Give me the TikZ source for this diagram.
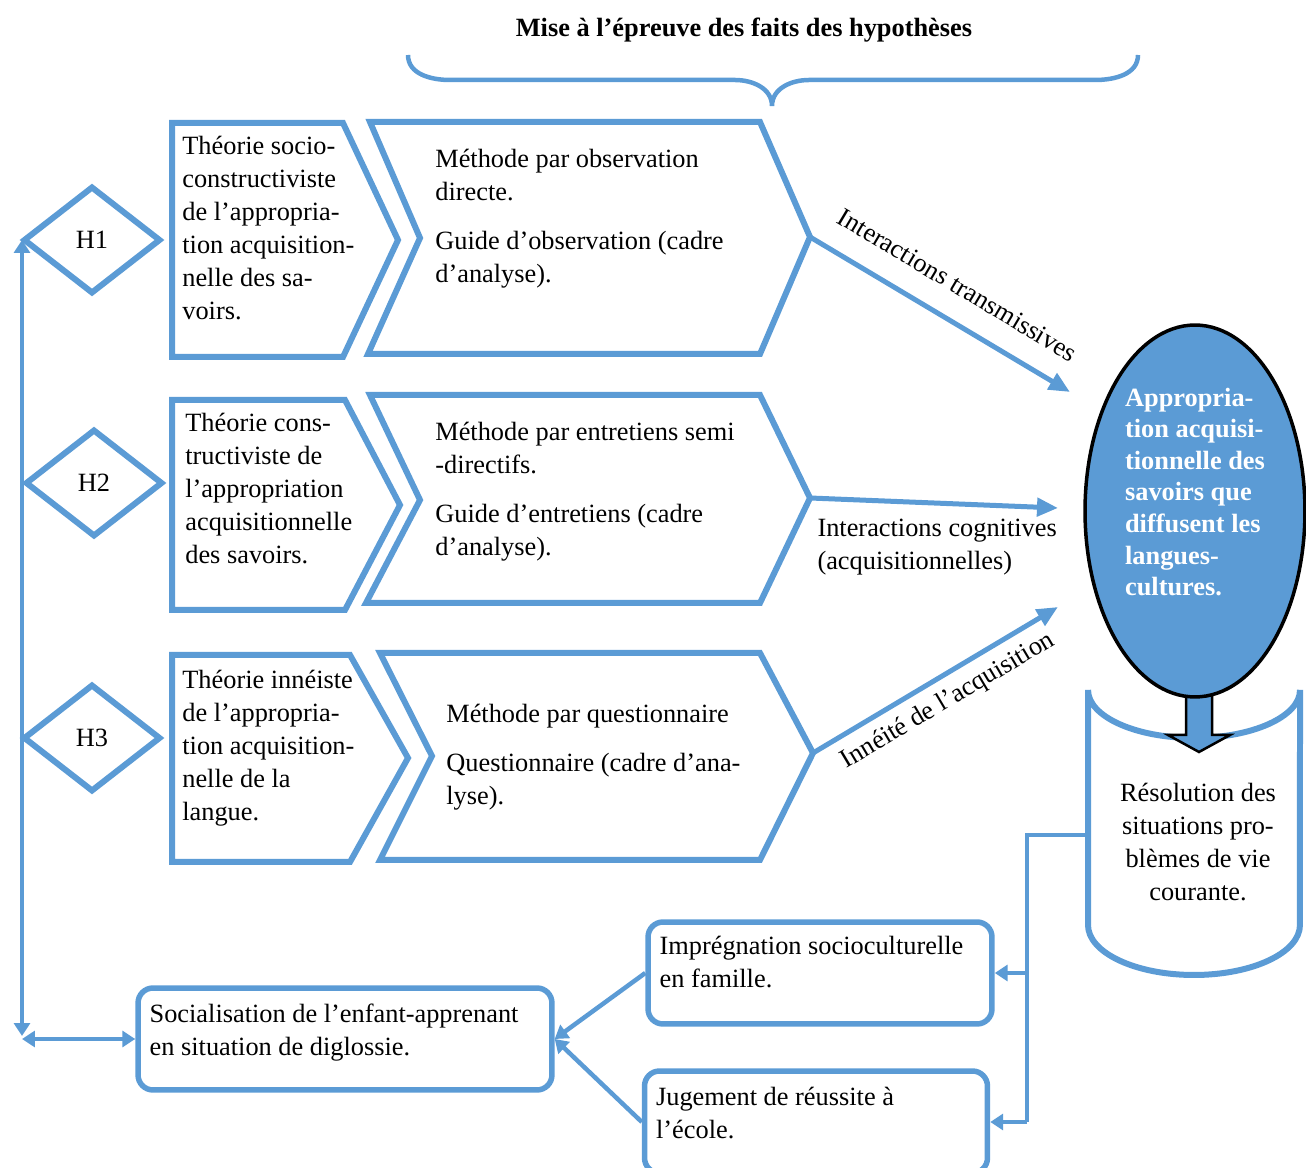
\documentclass[tikz,border=0pt]{standalone}
\usepackage{fontspec}
\setmainfont{Liberation Serif}
\usetikzlibrary{shapes.geometric,arrows.meta,positioning}
\definecolor{wordblue}{RGB}{91,155,213}

\begin{document}
\begin{tikzpicture}[x=0.02cm, y=-0.02cm,
  every node/.append style={font=\fontsize{15}{18.8}\selectfont},
  hyp/.style={diamond, draw=wordblue, line width=0.12cm, minimum width=2.75cm,
    minimum height=2.15cm, inner sep=0pt},
  chev/.style={draw=wordblue, line width=0.12cm, line join=miter, miter limit=10},
  txt/.style={anchor=north west, align=left, inner sep=0pt},
  infobox/.style={draw=wordblue, line width=0.11cm, rounded corners=0.3cm, minimum height=2.04cm},
  boxtext/.style={anchor=west, align=flush left, inner sep=0pt, xshift=0.28cm},
  wire/.style={draw=wordblue, line width=0.09cm},
  flow/.style={draw=wordblue, line width=0.1cm, -{Triangle[length=0.42cm, width=0.36cm]}},
  smalltip/.tip={Triangle[length=0.26cm, width=0.32cm]},
]
\useasboundingbox (0,0) rectangle (1306,1168);

%Declare nodes.
\node[font=\fontsize{15}{18.8}\selectfont\bfseries] (title) at (744,30) {Mise à l’épreuve des faits des hypothèses};

\node[hyp] (h1) at (92,240) {H1};
\node[hyp] (h2) at (94,483) {H2};
\node[hyp] (h3) at (92,738) {H3};

%Setup shapes.
\draw[wordblue, line width=0.09cm] (408,55) to[out=-90, in=180] (450,80) -- (735,80)
  to[out=0, in=90] (772,106) to[out=90, in=180] (809,80) -- (1095,80) to[out=0, in=-90] (1138,55);

\draw[chev] (172,123) -- (343,123) -- (398,240) -- (343,357) -- (172,357) -- cycle;
\draw[chev] (370,122) -- (760,122) -- (810,237) -- (760,354) -- (368,354) -- (420,238) -- cycle;
\draw[chev] (172,400) -- (345,400) -- (400,505) -- (345,610) -- (172,610) -- cycle;
\draw[chev] (370,395) -- (760,395) -- (810,498) -- (760,603) -- (366,603) -- (420,500) -- cycle;
\draw[chev] (172,655) -- (350,655) -- (408,758) -- (350,862) -- (172,862) -- cycle;
\draw[chev] (380,653) -- (760,653) -- (813,753) -- (760,860) -- (380,860) -- (432,756) -- cycle;

\coordinate (m1tip) at (810,237);
\coordinate (m2tip) at (810,498);
\coordinate (m3tip) at (813,753);

\node[txt] (t1) at (182,136) {Théorie socio-\\constructiviste\\de l’appropria-\\tion acquisition-\\nelle des sa-\\voirs.};
\node[txt] (t2) at (185,413) {Théorie cons-\\tructiviste de\\l’appropriation\\acquisitionnelle\\des savoirs.};
\node[txt] (t3) at (182,670) {Théorie innéiste\\de l’appropria-\\tion acquisition-\\nelle de la\\langue.};

\node[txt] (m1) at (435,149) {Méthode par observation\\directe.\\[9pt]Guide d’observation (cadre\\d’analyse).};
\node[txt] (m2) at (435,422) {Méthode par entretiens semi\\-directifs.\\[9pt]Guide d’entretiens (cadre\\d’analyse).};
\node[txt] (m3) at (446,704) {Méthode par questionnaire\\[9pt]Questionnaire (cadre d’ana-\\lyse).};

%Cylinder with the block arrow.
\draw[chev, fill=white] (1088,690) -- (1088,925) arc[start angle=180, end angle=360, x radius=2.12cm, y radius=1cm]
  -- (1300,690) arc[start angle=0, end angle=-180, x radius=2.12cm, y radius=0.96cm];
\coordinate (resw) at (1088,835);
\node[align=center] (res) at (1198,842) {Résolution des\\situations pro-\\blèmes de vie\\courante.};
\draw[black, line width=0.05cm, fill=wordblue] (1186,680) -- (1186,735) -- (1168,735) -- (1199,752)
  -- (1230,735) -- (1212,735) -- (1212,680) -- cycle;

\node[ellipse, fill=wordblue, draw=black, line width=0.07cm, minimum width=4.4cm, minimum height=7.44cm,
  label={[text=white, font=\fontsize{15}{18}\selectfont\bfseries, align=left, yshift=0.38cm]center:{Appropria-\\tion acquisi-\\tionnelle des\\savoirs que\\diffusent les\\langues-\\cultures.}}] (app) at (1195,511) {};

\node[infobox, minimum width=8.28cm,
  label={[boxtext, yshift=0.12cm]west:{Socialisation de l’enfant-apprenant\\en situation de diglossie.}}] (soc) at (345,1039) {};
\node[infobox, minimum width=6.88cm,
  label={[boxtext, yshift=0.22cm]west:{Imprégnation socioculturelle\\en famille.}}] (impr) at (820,973) {};
\node[infobox, minimum width=6.86cm,
  label={[boxtext, yshift=0.18cm]west:{Jugement de réussite à\\l’école.}}] (jug) at (816,1122) {};

\coordinate (e1) at (1070,392);
\coordinate (e2) at (1058,508);
\coordinate (e3) at (1058,607);
\coordinate (lb) at (22,1036);
\coordinate (rb) at (1027,835);

%Setup edges.
\draw[flow] (m1tip) -- node[sloped, above, inner sep=0.46cm] {Interactions transmissives} (e1);
\draw[flow] (m2tip) -- node[pos=0, anchor=north west, align=left, inner sep=0pt, xshift=0.1cm, yshift=-0.38cm]
  {Interactions cognitives\\(acquisitionnelles)} (e2);
\draw[flow] (m3tip) -- node[sloped, below, inner sep=0.2cm] {Innéité de l’acquisition} (e3);

\draw[wire, {smalltip}-{smalltip}] (lb) -- (lb |- h1.west);
\draw[wire, {smalltip}-{smalltip}] (lb |- soc.west) -- (soc.west);

\draw[wire] (resw) -- (rb) -- (rb |- jug.east);
\draw[wire, -{smalltip}] (rb |- impr.east) -- (impr.east);
\draw[wire, -{smalltip}] (rb |- jug.east) -- (jug.east);
\draw[wire, -{smalltip}] (impr.west) -- (soc.east);
\draw[wire, -{smalltip}] (jug.west) -- (soc.east);

\end{tikzpicture}
\end{document}
